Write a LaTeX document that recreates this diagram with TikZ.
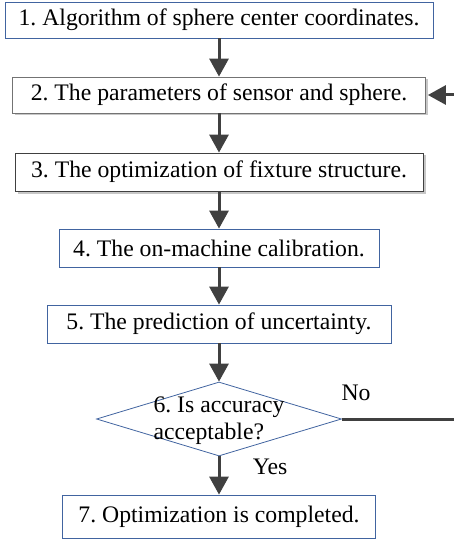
\documentclass[tikz,border=0pt]{standalone}
\usepackage{fontspec}
\setmainfont{Liberation Serif}
\usetikzlibrary{arrows.meta,shapes.geometric,shadows}
\definecolor{boxblue}{RGB}{65,100,160}
\definecolor{flowgray}{RGB}{64,64,64}
\frenchspacing
\tikzset{
    stage/.style={draw=boxblue, line width=0.8pt, fill=white, inner sep=0pt, minimum height=38pt},
    shadowed/.style={draw=black!55, drop shadow={shadow xshift=2.5pt, shadow yshift=-2.5pt, fill=black!22, opacity=1}},
    decision/.style={diamond, draw=boxblue, line width=0.8pt, inner sep=0pt},
    flow/.style={draw=flowgray, line width=3pt, -{Triangle[length=18pt,width=19pt]}},
    loopline/.style={draw=flowgray, line width=3pt}
}
\begin{document}
\begin{tikzpicture}[x=1pt, y=-1pt, font=\fontsize{23.7pt}{27pt}\selectfont]
    \useasboundingbox (0,0) rectangle (454,540);
    \node[stage, minimum width=428pt, minimum height=36pt] (b1) at (219,20) {1. Algorithm of sphere center coordinates.};
    \node[stage, shadowed, minimum width=413pt, minimum height=36pt] (b2) at (219,95) {2. The parameters of sensor and sphere.};
    \node[stage, shadowed, draw=black!75, minimum width=408pt] (b3) at (219,172) {3. The optimization of fixture structure.};
    \node[stage, minimum width=320pt] (b4) at (219,248) {4. The on-machine calibration.};
    \node[stage, minimum width=344pt] (b5) at (219,324) {5. The prediction of uncertainty.};
    \node[decision, minimum width=245pt, minimum height=74pt] (d6) at (219,419) {};
    \node[align=left] (d6text) at (219,421) {6. Is accuracy\\acceptable?};
    \node[stage, minimum width=313pt, minimum height=43pt] (b7) at (219,516.5) {7. Optimization is completed.};
    \node (no) at (356,393) {No};
    \node (yes) at (270,467) {Yes};
    \coordinate (noend) at (454,419);
    \coordinate (loopin) at (b2.east -| noend);
    % main flow
    \draw[flow] (b1) -- (b2);
    \draw[flow] (b2) -- (b3);
    \draw[flow] (b3) -- (b4);
    \draw[flow] (b4) -- (b5);
    \draw[flow] (b5) -- (d6);
    \draw[flow] (d6) -- (b7);
    % feedback
    \draw[loopline] (d6.east) -- (noend);
    \draw[flow, shorten >=2pt] (loopin) -- (b2.east);
\end{tikzpicture}
\end{document}
